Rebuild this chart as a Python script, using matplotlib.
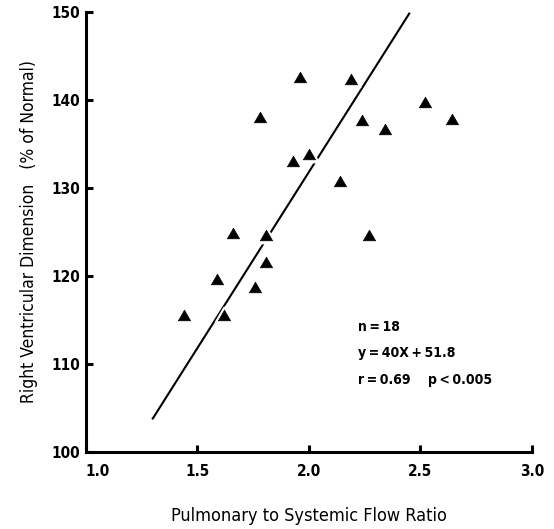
import matplotlib
matplotlib.use("Agg")
import matplotlib.pyplot as plt
import numpy as np

# Pulmonary-to-systemic flow ratio vs. right ventricular dimension
flow_ratio = [1.96, 2.19, 2.52, 1.78, 2.24, 2.64, 2.34, 2.00, 1.93, 2.14,
              1.66, 1.81, 2.27, 1.81, 1.59, 1.76, 1.44, 1.62]
rv_dimension = [142.6, 142.4, 139.8, 138.0, 137.7, 137.8, 136.7, 133.9, 133.0, 130.8,
                124.9, 124.6, 124.7, 121.6, 119.6, 118.7, 115.6, 115.6]

# regression y = 40x + 51.8
slope, intercept = 40.0, 51.8
fit_range = [1.3, 2.45]

x_ticks = [1.0, 1.5, 2.0, 2.5, 3.0]
x_ticklabels = ["1.0", "1.5", "2.0", "2.5", "3.0"]
y_ticks = [100, 110, 120, 130, 140, 150]

stats_lines = ["n\u2009=\u200918",
               "y\u2009=\u200940X\u2009+\u200951.8",
               "r\u2009=\u20090.69    p\u2009<\u20090.005"]

plt.rcParams["font.family"] = ["DejaVu Sans"]
plt.rcParams["font.stretch"] = "condensed"

# equilateral triangle, width = markersize
tri = [(-1, -0.866), (1, -0.866), (0, 0.866), (-1, -0.866)]

fig = plt.figure(figsize=(5.54, 5.29), dpi=100)
ax = fig.add_axes([0.155, 0.1456, 0.805, 0.832])

xf = np.array(fit_range)
ax.plot(xf, slope * xf + intercept, color="black", lw=1.5, zorder=2)

# white halo so the fit line breaks around each point
ax.plot(flow_ratio, rv_dimension, linestyle="none", marker=tri, ms=12.5,
        color="white", mec="white", mew=2, zorder=3)
ax.plot(flow_ratio, rv_dimension, linestyle="none", marker=tri, ms=8.8,
        color="black", mec="black", mew=0.5, zorder=4)

ax.set_xlim(1.0, 3.0)
ax.set_ylim(100, 150)
ax.set_xticks(x_ticks)
ax.set_xticklabels(x_ticklabels)
ax.set_yticks(y_ticks)

for side in ("top", "right"):
    ax.spines[side].set_visible(False)
for side in ("left", "bottom"):
    ax.spines[side].set_linewidth(2.2)

ax.tick_params(axis="both", direction="in", length=5, width=2.2,
               labelsize=11)
ax.tick_params(axis="x", pad=9)
ax.tick_params(axis="y", pad=4)
for lab in ax.get_xticklabels() + ax.get_yticklabels():
    lab.set_fontweight("bold")
ax.get_xticklabels()[0].set_horizontalalignment("left")

ax.set_xlabel("Pulmonary to Systemic Flow Ratio", fontsize=13, labelpad=20)
ax.set_ylabel("Right Ventricular Dimension   (% of Normal)", fontsize=12.5,
              labelpad=10)

for i, line in enumerate(stats_lines):
    ax.text(2.22, 114.2 - i * 3.0, line, fontsize=10, fontweight="bold",
            va="center", ha="left")

fig.savefig("out.png", dpi=100)
